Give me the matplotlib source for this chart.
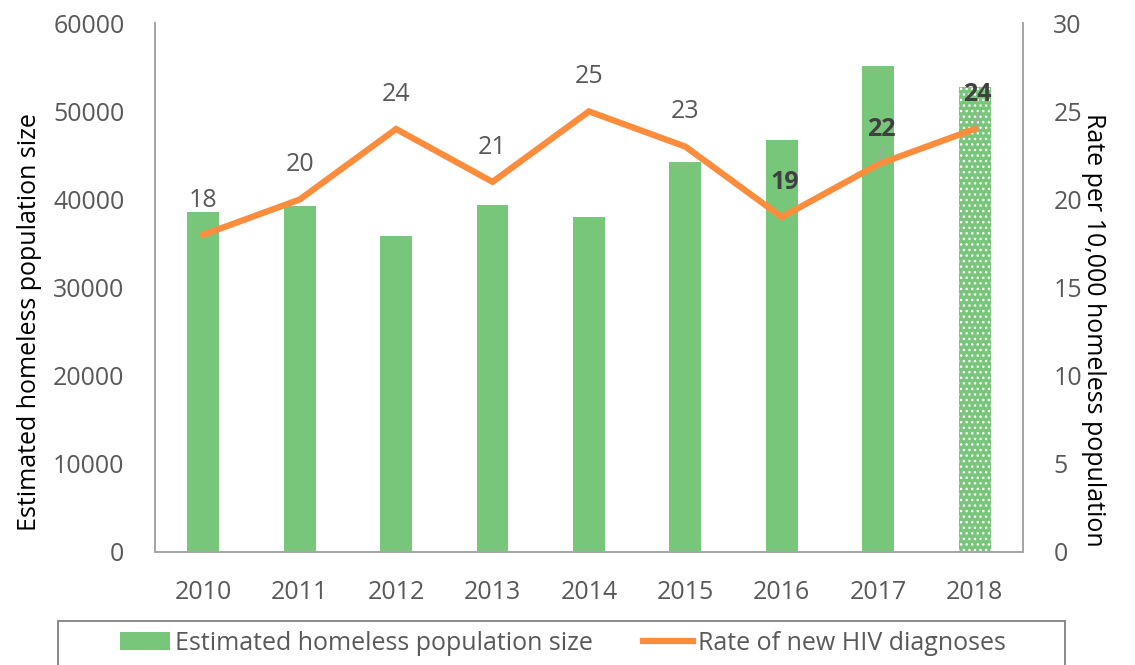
import matplotlib.pyplot as plt
from matplotlib.patches import Patch, Rectangle
from matplotlib.lines import Line2D

years = ["2010", "2011", "2012", "2013", "2014", "2015", "2016", "2017", "2018"]
homeless = [38600, 39300, 35900, 39400, 38000, 44300, 46800, 55100, 52800]
rate = [18, 20, 24, 21, 25, 23, 19, 22, 24]
bold_labels = ["2016", "2017", "2018"]

GREEN = "#78c679"
ORANGE = "#fd8d3c"
GREY = "#595959"
SPINE = "#a6a6a6"

plt.rcParams["font.family"] = ["Open Sans", "DejaVu Sans"]
FS = 18

fig = plt.figure(figsize=(11.35, 6.65), dpi=100)
ax = fig.add_axes([0.1366, 0.17, 0.7646, 0.795])
ax2 = ax.twinx()

x = list(range(len(years)))
bars = ax.bar(x, homeless, width=0.33, color=GREEN, zorder=2)
# 2018 bar hatched
bars[-1].set_hatch("...")
bars[-1].set_edgecolor("white")
bars[-1].set_linewidth(0)

ax2.plot(x, rate, color=ORANGE, linewidth=4.5, solid_joinstyle="miter", zorder=3)

for i, (yr, r) in enumerate(zip(years, rate)):
    if yr in bold_labels:
        ax2.annotate(str(r), (i, r), xytext=(2, 25), textcoords="offset points",
                     ha="center", va="center", fontsize=FS, fontweight="bold",
                     color="#404040")
        if yr != "2016":
            ax2.annotate("", (i, r), xytext=(3, 12), textcoords="offset points",
                         arrowprops=dict(arrowstyle="-", color="#a6a6a6", lw=1.2,
                                         shrinkA=0, shrinkB=2))
    else:
        ax2.annotate(str(r), (i, r), xytext=(0, 25), textcoords="offset points",
                     ha="center", va="center", fontsize=FS, color=GREY)

ax.set_xlim(-0.5, len(years) - 0.5)
ax.set_ylim(0, 60000)
ax2.set_ylim(0, 30)
ax.set_yticks(range(0, 60001, 10000))
ax2.set_yticks(range(0, 31, 5))
ax.set_xticks(x)
ax.set_xticklabels(years)

for a in (ax, ax2):
    for s in a.spines.values():
        s.set_color(SPINE)
        s.set_linewidth(1.3)
    a.spines["top"].set_visible(False)
    a.tick_params(length=0, labelsize=FS, labelcolor=GREY)
ax.tick_params(axis="y", pad=22)
ax.tick_params(axis="x", pad=20)
ax2.tick_params(axis="y", pad=22)

ax.set_ylabel("Estimated homeless population size", fontsize=FS, color="black")
ax2.set_ylabel("Rate per 10,000 homeless population", fontsize=FS, color="black",
               rotation=270)
ax.yaxis.set_label_coords(-0.13, 0.434)
ax2.yaxis.set_label_coords(1.096, 0.42)

handles = [Patch(facecolor=GREEN, label="Estimated homeless population size"),
           Line2D([0], [0], color=ORANGE, lw=4.5, label="Rate of new HIV diagnoses")]
leg = fig.legend(handles=handles, loc="center", ncol=2,
                 bbox_to_anchor=(563 / 1135, 1 - 643 / 665), fontsize=FS,
                 frameon=False, handlelength=2.0, handletextpad=0.2,
                 columnspacing=2.0)
for t in leg.get_texts():
    t.set_color(GREY)
fig.patches.append(Rectangle((58 / 1135, -0.05), (1065 - 58) / 1135, 0.05 + 44 / 665,
                             transform=fig.transFigure, fill=False,
                             edgecolor="#808080", linewidth=1.3))

fig.savefig("out.png", dpi=100)
